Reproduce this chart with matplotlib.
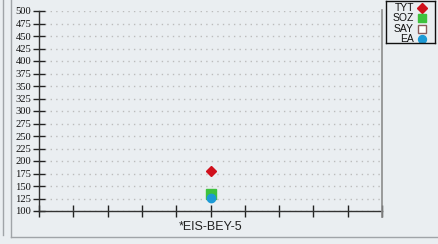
import numpy as np
import matplotlib
matplotlib.use("Agg")
import matplotlib.pyplot as plt
from matplotlib.lines import Line2D

# data
categories = ["", "", "", "", "", "*EIS-BEY-5", "", "", "", "", ""]
series_names = ["TYT", "SOZ", "SAY", "EA"]
series_values = {
    "TYT": [180],
    "SOZ": [135],
    "SAY": [np.nan],
    "EA": [127],
}
series_pos = [5]
y_ticks = list(range(100, 501, 25))

styles = {
    "TYT": dict(marker="D", color="#d0101c", mec="#d0101c", ms=5),
    "SOZ": dict(marker="s", color="#3ec23e", mec="#3ec23e", ms=6.5),
    "SAY": dict(marker="s", color="white", mec="#8a5a5a", ms=6.5),
    "EA": dict(marker="o", color="#1d9ad6", mec="#1d9ad6", ms=6),
}

bg = "#eaeef1"
W, H = 438, 244
fig = plt.figure(figsize=(W / 100, H / 100), dpi=100, facecolor=bg)

def fx(px):
    return px / W

def fy(py):
    return 1 - py / H

# panel borders
fig.add_artist(Line2D([fx(3), fx(3)], [fy(0), fy(235)], color="#a0a4a8", lw=1))
fig.add_artist(Line2D([fx(11), fx(11)], [fy(0), fy(237)], color="#a0a4a8", lw=1))
fig.add_artist(Line2D([fx(11), fx(438)], [fy(237), fy(237)], color="#a0a4a8", lw=1))

ax = fig.add_axes([fx(39), fy(211), fx(382) - fx(39), fy(11) - fy(211)])
ax.set_facecolor(bg)
ax.set_xlim(0, 10)
ax.set_ylim(100, 500)

for name in series_names:
    st = styles[name]
    ax.plot(series_pos, series_values[name], linestyle="none", marker=st["marker"],
            mfc=st["color"], mec=st["mec"], ms=st["ms"], zorder=3)

ax.set_yticks(y_ticks)
ax.set_yticklabels([str(v) for v in y_ticks], family="Liberation Serif",
                   fontsize=7.6, color="#111111")
ax.set_xticks(range(len(categories)))
ax.set_xticklabels(categories, family="Liberation Sans", fontsize=9, color="#222222")
ax.tick_params(axis="y", direction="inout", length=8, width=1, color="#222222", pad=1.5)
ax.tick_params(axis="x", direction="inout", length=8, width=1, color="#222222", pad=3.5)
ax.yaxis.grid(True, linestyle=(0, (1, 3)), color="#bcbcbc", lw=1)
ax.set_axisbelow(True)

for s in ["top", "right"]:
    ax.spines[s].set_visible(False)
for s in ["left", "bottom"]:
    ax.spines[s].set_color("#333333")
    ax.spines[s].set_linewidth(1)

fig.add_artist(Line2D([fx(382), fx(382)], [fy(10), fy(217)], color="#8c8c8c", lw=1.2))

# legend box
lax = fig.add_axes([fx(386), fy(43), fx(435) - fx(386), fy(1) - fy(43)])
lax.set_xlim(0, 49)
lax.set_ylim(42, 0)
lax.set_xticks([])
lax.set_yticks([])
lax.set_facecolor(bg)
for s in lax.spines.values():
    s.set_color("#111111")
    s.set_linewidth(1)
rows = [7, 17, 27.5, 37.5]
for name, yy in zip(series_names, rows):
    st = styles[name]
    lax.text(28, yy, name, ha="right", va="center", family="Liberation Sans",
             fontsize=7.5, linespacing=1, color="#111111")
    lax.plot([36], [yy], linestyle="none", marker=st["marker"], mfc=st["color"],
             mec=st["mec"], ms=st["ms"] * 0.95)

fig.savefig("out.png", dpi=100, facecolor=bg)
